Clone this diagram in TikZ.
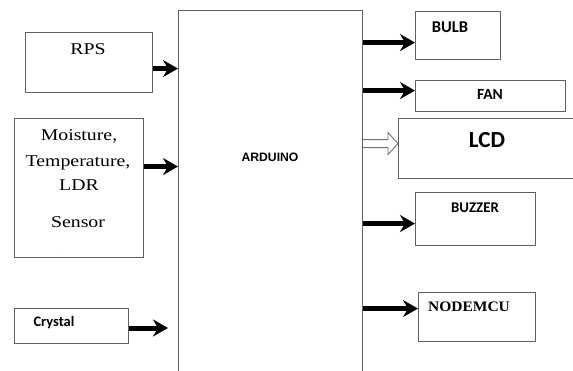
\documentclass[tikz,border=0pt]{standalone}
\usepackage{fontspec}
\setmainfont{Liberation Serif}
\newfontfamily\calib{Carlito}
\newfontfamily\arialf{Liberation Sans}
\usetikzlibrary{arrows.meta}
\newcommand\widetxt[1]{\scalebox{1.2}[1]{#1}}
\begin{document}
\begin{tikzpicture}[x=1pt,y=-1pt,
  box/.style={draw=black!62, line width=1.1pt, inner sep=0pt, anchor=north west, fill=white},
  arr/.style={line width=5pt, -{Stealth[length=15pt,width=17pt,inset=5pt]}},
  serifT/.style={font=\fontsize{16.5}{20}\selectfont, anchor=base, inner sep=0pt},
  calT/.style={font=\calib\bfseries\fontsize{16}{19}\selectfont, anchor=base, inner sep=0pt},
  hollow/.style={draw=black!55, line width=0.9pt, fill=white}]
\useasboundingbox (0,0) rectangle (573,370);
\clip (0,0) rectangle (573,370);
\fill[white] (0,0) rectangle (573,370);

% boxes
\node[box, minimum width=127pt, minimum height=60pt] (rps) at (25,32) {};
\node[box, minimum width=129pt, minimum height=139pt] (sens) at (14,118) {};
\node[box, minimum width=114pt, minimum height=35pt] (cry) at (14,308) {};
\node[box, minimum width=184pt, minimum height=370pt] (ard) at (178,10) {};
\node[box, minimum width=85pt, minimum height=48pt] (bulb) at (415,11) {};
\node[box, minimum width=150pt, minimum height=31pt] (fan) at (415,80) {};
\node[box, minimum width=190pt, minimum height=60pt] (lcd) at (398,118) {};
\node[box, minimum width=120pt, minimum height=53pt] (buz) at (415,192) {};
\node[box, minimum width=117pt, minimum height=49pt] (nmcu) at (418,292) {};

% texts
\node[serifT] (rpsT) at (88,54) {\widetxt{RPS}};
\node[serifT] (s1) at (79,140) {\widetxt{Moisture,}};
\node[serifT] (s2) at (78,166) {\widetxt{Temperature,}};
\node[serifT] (s3) at (79,190) {\widetxt{LDR}};
\node[serifT] (s4) at (78,227) {\widetxt{Sensor}};
\node[font=\tiny, text=black!45, inner sep=0pt] (dot) at (62,250) {.};
\node[calT, font=\calib\bfseries\fontsize{14.5}{17}\selectfont] (cryT) at (54,326) {Crystal};
\node[anchor=base, inner sep=0pt, font=\arialf\bfseries\fontsize{12.2}{14}\selectfont] (ardT) at (270,161) {ARDUINO};
\node[calT, font=\calib\bfseries\fontsize{16.5}{19}\selectfont] (bulbT) at (450,32) {BULB};
\node[calT, font=\calib\bfseries\fontsize{15.5}{18}\selectfont] (fanT) at (490,99) {FAN};
\node[calT, font=\calib\bfseries\fontsize{23}{26}\selectfont] (lcdT) at (487,147) {LCD};
\node[calT, font=\calib\bfseries\fontsize{14.8}{17}\selectfont] (buzT) at (475,212) {BUZZER};
\node[anchor=base, inner sep=0pt, font=\bfseries\fontsize{14.5}{17}\selectfont] (nmcuT) at (469,311) {\scalebox{1.07}[1]{NODEMCU}};

% input arrows
\draw[arr] ([yshift=-6pt]rps.east) -- ([yshift=-6pt]rps.east -| ard.west);
\draw[arr] ([yshift=21.5pt]sens.east) -- ([yshift=21.5pt]sens.east -| ard.west);
\coordinate (cryin) at (168,328);
\draw[arr] (cry.east |- cryin) -- (cryin);

% output arrows
\draw[arr] ([yshift=-7pt]bulb.west -| ard.east) -- ([yshift=-7pt]bulb.west);
\draw[arr] ([yshift=5.5pt]fan.west -| ard.east) -- ([yshift=5.5pt]fan.west);
\draw[arr] ([yshift=-4.5pt]buz.west -| ard.east) -- ([yshift=-4.5pt]buz.west);
\draw[arr] ([yshift=8.5pt]nmcu.west -| ard.east) -- ([yshift=8.5pt]nmcu.west);

% hollow arrow to LCD
\coordinate (lcdin) at ([yshift=5pt]lcd.west);
\coordinate (ardout) at (ard.east |- lcdin);
\draw[hollow] ([yshift=4pt]ardout) -- ([xshift=-10pt,yshift=4pt]lcdin) -- ([xshift=-10pt,yshift=11pt]lcdin)
  -- (lcdin) -- ([xshift=-10pt,yshift=-11pt]lcdin) -- ([xshift=-10pt,yshift=-4pt]lcdin) -- ([yshift=-4pt]ardout);
\end{tikzpicture}
\end{document}
